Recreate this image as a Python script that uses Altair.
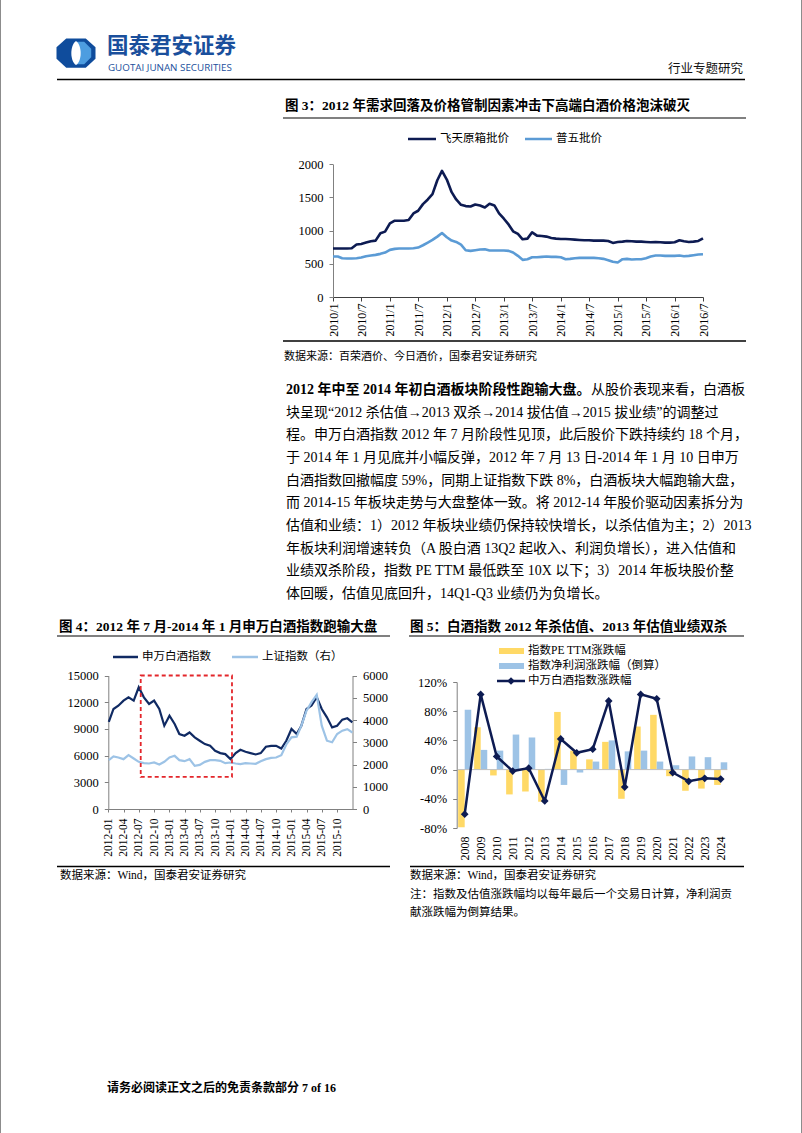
import altair as alt
import pandas as pd

# ======================= DATA =======================
# Figure 3: monthly wholesale prices, 2010/1 - 2016/7 (yuan)
fig3_series = ["飞天原箱批价", "普五批价"]
feitian_price = [730, 730, 730, 730, 735, 790, 800, 820, 840, 850, 960, 985,
                 1110, 1150, 1150, 1150, 1160, 1260, 1300, 1400, 1470, 1550, 1760, 1900,
                 1770, 1580, 1470, 1390, 1370, 1365, 1395, 1380, 1350, 1405, 1380, 1260,
                 1180, 1090, 990, 950, 870, 880, 975, 925, 920, 910, 890, 880,
                 875, 875, 870, 865, 860, 855, 855, 850, 850, 850, 845, 815,
                 830, 835, 845, 840, 835, 835, 830, 825, 830, 825, 820, 820,
                 825, 855, 840, 830, 835, 845, 885]
puwu_price = [610, 610, 585, 580, 580, 585, 595, 615, 625, 635, 650, 670,
              710, 725, 730, 730, 730, 735, 745, 780, 820, 860, 910, 965,
              900, 850, 830, 790, 705, 695, 705, 715, 720, 700, 700, 700,
              700, 695, 670, 620, 560, 570, 600, 600, 605, 610, 605, 605,
              600, 570, 575, 585, 590, 590, 590, 590, 585, 575, 555, 530,
              520, 570, 575, 565, 570, 570, 585, 610, 625, 625, 620, 620,
              620, 625, 615, 620, 630, 640, 645]
fig3_dates = list(pd.date_range("2010-01-01", "2016-07-01", freq="MS"))

# Figure 4: SW liquor index (left) and Shanghai Composite (right)
fig4_series = ["申万白酒指数", "上证指数（右）"]
fig4_dates = ["2012-01-04", "2012-02-01", "2012-03-01", "2012-04-01", "2012-05-01", "2012-06-01",
              "2012-07-01", "2012-08-01", "2012-09-01", "2012-10-01", "2012-11-01", "2012-12-01",
              "2013-01-01", "2013-02-01", "2013-03-01", "2013-04-01", "2013-05-01", "2013-06-01",
              "2013-07-01", "2013-08-01", "2013-09-01", "2013-10-01", "2013-11-01", "2013-12-01",
              "2014-01-01", "2014-02-01", "2014-03-01", "2014-04-01", "2014-05-01", "2014-06-01",
              "2014-07-01", "2014-08-01", "2014-09-01", "2014-10-01", "2014-11-01", "2014-12-01",
              "2015-01-01", "2015-02-01", "2015-03-01", "2015-04-01", "2015-05-01", "2015-06-01",
              "2015-07-01", "2015-08-01", "2015-09-01", "2015-10-01", "2015-11-01", "2015-12-01",
              "2015-12-31"]
sw_baijiu = [9800, 11240, 11600, 12180, 12550, 12180, 13680, 12550, 11800, 12180, 11240, 9360,
             10490, 9550, 8420, 8230, 8600, 8045, 7670, 7290, 7100, 6540, 6280, 6165,
             5600, 6280, 6650, 6430, 6280, 6130, 6280, 7000, 7100, 7100, 6800, 7670,
             8990, 8420, 9360, 11240, 11620, 12560, 11240, 10300, 9170, 9360, 10040, 10190, 9740]
sh_index = [2200, 2360, 2315, 2240, 2420, 2270, 2120, 2060, 2045, 2090, 2000, 2120,
            2315, 2390, 2195, 2150, 2240, 1940, 1985, 2120, 2195, 2195, 2165, 2060,
            2090, 2045, 2015, 2060, 2045, 2030, 2150, 2240, 2300, 2315, 2420, 2900,
            3220, 3250, 3745, 4420, 4800, 5130, 3745, 3070, 3000, 3370, 3520, 3590, 3440]
box_start, box_end = "2012-07-13", "2014-01-10"
box_low, box_high = 3600, 15000

# Figure 5: annual changes (%)
fig5_years = [str(y) for y in range(2008, 2025)]
fig5_series = ["指数PE TTM涨跌幅", "指数净利润涨跌幅（倒算）", "中万白酒指数涨跌幅"]
pe_change = [-79, 58, -8, -34, -30, -44, 79, 26, 14, 38, -40, 59, 75, -9, -29, -26, -21]
profit_change = [82, 27, 26, 48, 44, 1, -21, -4, 11, 40, 25, 26, 11, 6, 18, 17, 10]
index_change = [-61, 103, 18, -2, 2, -43, 42, 23, 28, 94, -24, 103, 97, -4, -16, -12, -13]

# Page texts
header_cn = "国泰君安证券"
header_en = "GUOTAI JUNAN SECURITIES"
header_right = "行业专题研究"
fig3_title = "图 3：2012 年需求回落及价格管制因素冲击下高端白酒价格泡沫破灭"
fig3_source = "数据来源：百荣酒价、今日酒价，国泰君安证券研究"
para_bold = "2012 年中至 2014 年初白酒板块阶段性跑输大盘。"
para_first_rest = "从股价表现来看，白酒板"
para_lines = [
    "块呈现“2012 杀估值→2013 双杀→2014 拔估值→2015 拔业绩”的调整过",
    "程。申万白酒指数 2012 年 7 月阶段性见顶，此后股价下跌持续约 18 个月，",
    "于 2014 年 1 月见底并小幅反弹，2012 年 7 月 13 日-2014 年 1 月 10 日申万",
    "白酒指数回撤幅度 59%，同期上证指数下跌 8%，白酒板块大幅跑输大盘，",
    "而 2014-15 年板块走势与大盘整体一致。将 2012-14 年股价驱动因素拆分为",
    "估值和业绩：1）2012 年板块业绩仍保持较快增长，以杀估值为主；2）2013",
    "年板块利润增速转负（A 股白酒 13Q2 起收入、利润负增长），进入估值和",
    "业绩双杀阶段，指数 PE TTM 最低跌至 10X 以下；3）2014 年板块股价整",
    "体回暖，估值见底回升，14Q1-Q3 业绩仍为负增长。",
]
fig4_title = "图 4：2012 年 7 月-2014 年 1 月申万白酒指数跑输大盘"
fig5_title = "图 5：白酒指数 2012 年杀估值、2013 年估值业绩双杀"
wind_source = "数据来源：Wind，国泰君安证券研究"
fig5_note = ["注：指数及估值涨跌幅均以每年最后一个交易日计算，净利润贡", "献涨跌幅为倒算结果。"]
footer = "请务必阅读正文之后的免责条款部分 7 of 16"

# ======================= STYLE / LAYOUT =======================
PAGE_W, PAGE_H = 802, 1133
FONT = "Liberation Serif, Noto Sans CJK SC"
SANS = "Noto Sans CJK SC"
NAVY = "#0d1b52"
NAVY4 = "#102a63"
LIGHT3 = "#5b9bd5"
LIGHT4 = "#9dc3e6"
YELLOW = "#ffd966"
RED = "#e3262b"
LOGO_DARK = "#0f4c9c"
LOGO_LIGHT = "#4d9de0"

# plot-area frames (pixels on the page)
F3_X, F3_Y = [333, 703], [297, 164.3]
F4_X, F4_Y = [108.3, 352.5], [809, 675.5]
F5_X, F5_Y = [456.7, 728.7], [828, 682]

DUMMY = alt.Data(values=[{"k": 0}])


def T(s, x, y, size, bold=False, color="#000000", font=FONT):
    return alt.Chart(DUMMY).mark_text(
        text=s, align="left", baseline="middle", fontSize=size,
        fontWeight="bold" if bold else "normal", color=color, font=font
    ).encode(x=alt.value(x), y=alt.value(y))


def HR(x1, x2, y, color="#000000", w=1.5):
    return alt.Chart(DUMMY).mark_rule(color=color, strokeWidth=w).encode(
        x=alt.value(x1), x2=alt.value(x2), y=alt.value(y))


def VR(x, y1, y2, color="#000000", w=1.0):
    return alt.Chart(DUMMY).mark_rule(color=color, strokeWidth=w).encode(
        x=alt.value(x), y=alt.value(y1), y2=alt.value(y2))


def BOX(x1, x2, y1, y2, color):
    return alt.Chart(DUMMY).mark_rect(color=color).encode(
        x=alt.value(x1), x2=alt.value(x2), y=alt.value(y1), y2=alt.value(y2))


def SYM(shape, x, y, size, color):
    return alt.Chart(DUMMY).mark_point(
        shape=shape, filled=True, size=size, color=color, opacity=1, strokeWidth=0
    ).encode(x=alt.value(x), y=alt.value(y))


def dt(y, m, d=1):
    return alt.DateTime(year=y, month=m, date=d)


def left_axis(values, x_pos, expr=None):
    kw = dict(values=values, orient="left", offset=-x_pos, grid=False, title=None,
              labelFont=FONT, labelFontSize=12.5, labelColor="#000000",
              domainColor="#808080", tickColor="#808080", tickSize=4, labelPadding=6)
    if expr:
        kw["labelExpr"] = expr
    else:
        kw["format"] = "d"
    return alt.Axis(**kw)


def right_axis(values, x_pos):
    return alt.Axis(values=values, orient="right", offset=x_pos - PAGE_W, grid=False, title=None,
                    format="d", labelFont=FONT, labelFontSize=12.5, labelColor="#000000",
                    domainColor="#808080", tickColor="#808080", tickSize=4, labelPadding=6)


def bottom_axis(y_pos, **kw):
    base = dict(orient="bottom", offset=y_pos - PAGE_H, labelAngle=270, labelFont=FONT,
                labelColor="#000000", grid=False, title=None, labelOverlap=False, labelFlush=False)
    base.update(kw)
    return alt.Axis(**base)


layers = []

# ---------- page frame + header ----------
octagon = "M -0.5,-0.75 L 0.5,-0.75 L 1,-0.3 L 1,0.3 L 0.5,0.75 L -0.5,0.75 L -1,0.3 L -1,-0.3 Z"
right_part = "M 0.05,-0.58 L 0.42,-0.58 L 0.78,-0.22 L 0.78,0.22 L 0.42,0.58 L 0.05,0.58 Z"
lens = "M 0,-0.62 C 0.32,-0.4 0.32,0.4 0,0.62 C -0.32,0.4 -0.32,-0.4 0,-0.62 Z"
layers += [
    VR(0.5, 0, PAGE_H, "#8c8c8c", 1), VR(801.5, 0, PAGE_H, "#8c8c8c", 1),
    SYM(octagon, 76, 53, 1521, LOGO_DARK),
    SYM(right_part, 76, 53, 1521, LOGO_LIGHT),
    SYM(lens, 76, 53, 1521, "#ffffff"),
    T(header_cn, 107, 46.5, 21.5, bold=True, color="#1a4f9c", font=SANS),
    T(header_en, 108, 68, 9.8, color="#1a4f9c", font="Open Sans"),
    T(header_right, 668, 69, 12.5, color="#111111"),
    HR(57, 745, 79.5, "#000000", 1.5),
]

# ---------- figure 3 ----------
layers += [
    T(fig3_title, 285, 106, 13.5, bold=True),
    HR(283, 746, 118, "#808080", 2),
    HR(408, 436, 139, NAVY, 2.5),
    T(fig3_series[0], 440, 139, 11.5),
    HR(525, 552, 139, LIGHT3, 2.5),
    T(fig3_series[1], 556, 139, 11.5),
]
f3_df = pd.DataFrame({"date": fig3_dates, "feitian": feitian_price, "puwu": puwu_price})
x3_scale = alt.Scale(domain=[dt(2010, 1), dt(2016, 7)], range=F3_X)
y3_scale = alt.Scale(domain=[0, 2000], range=F3_Y, nice=False)
x3_axis = bottom_axis(F3_Y[0], values=[dt(y, m) for y in range(2010, 2017) for m in (1, 7)],
                      format="%Y/%-m", labelFontSize=12, domainColor="#404040",
                      tickColor="#404040", tickSize=4, labelPadding=2)
layers.append(alt.Chart(f3_df).mark_line(color=NAVY, strokeWidth=2.6, strokeJoin="round").encode(
    x=alt.X("date:T", scale=x3_scale, axis=x3_axis),
    y=alt.Y("feitian:Q", scale=y3_scale, axis=left_axis([0, 500, 1000, 1500, 2000], F3_X[0])),
))
layers.append(alt.Chart(f3_df).mark_line(color=LIGHT3, strokeWidth=2.6, strokeJoin="round").encode(
    x=alt.X("date:T", scale=x3_scale, axis=None),
    y=alt.Y("puwu:Q", scale=y3_scale, axis=None),
))
layers += [
    HR(283, 746, 341, "#000000", 1.5),
    T(fig3_source, 284, 357, 11),
]

# ---------- paragraph ----------
layers += [T(para_bold, 286, 390, 14, bold=True), T(para_first_rest, 591, 390, 14)]
for i, line in enumerate(para_lines):
    layers.append(T(line, 286, 390 + 22.65 * (i + 1), 14))

# ---------- figure 4 ----------
layers += [
    T(fig4_title, 59, 627, 13.5, bold=True),
    HR(57, 390, 636, "#808080", 2),
    HR(113, 138, 657, NAVY4, 2.5),
    T(fig4_series[0], 142, 657, 11.5),
    HR(232, 258, 657, LIGHT4, 2.5),
    T(fig4_series[1], 262, 657, 11.5),
]
f4_df = pd.DataFrame({"date": pd.to_datetime(fig4_dates), "sw": sw_baijiu, "sh": sh_index})
box_df = pd.DataFrame({"start": [pd.Timestamp(box_start)], "end": [pd.Timestamp(box_end)],
                       "low": [box_low], "high": [box_high]})
x4_scale = alt.Scale(domain=[dt(2012, 1), dt(2016, 1)], range=F4_X)
y4l_scale = alt.Scale(domain=[0, 15000], range=F4_Y, nice=False)
y4r_scale = alt.Scale(domain=[0, 6000], range=F4_Y, nice=False)
x4_axis = bottom_axis(F4_Y[0], values=[dt(y, m) for y in range(2012, 2016) for m in (1, 4, 7, 10)],
                      format="%Y-%m", labelFontSize=11.5, domainColor="#808080",
                      tickColor="#808080", tickSize=3, labelPadding=6)
layers.append(alt.Chart(f4_df).mark_line(color=NAVY4, strokeWidth=2.2).encode(
    x=alt.X("date:T", scale=x4_scale, axis=x4_axis),
    y=alt.Y("sw:Q", scale=y4l_scale,
            axis=left_axis([0, 3000, 6000, 9000, 12000, 15000], F4_X[0])),
))
layers.append(alt.Chart(f4_df).mark_line(color=LIGHT4, strokeWidth=2.2).encode(
    x=alt.X("date:T", scale=x4_scale, axis=None),
    y=alt.Y("sh:Q", scale=y4r_scale,
            axis=right_axis([0, 1000, 2000, 3000, 4000, 5000, 6000], F4_X[1])),
))
layers.append(alt.Chart(box_df).mark_rect(fillOpacity=0, stroke=RED, strokeWidth=1.8,
                                          strokeDash=[4, 3]).encode(
    x=alt.X("start:T", scale=x4_scale, axis=None),
    x2="end:T",
    y=alt.Y("low:Q", scale=y4l_scale, axis=None),
    y2="high:Q",
))
layers += [
    HR(57, 390, 866.5, "#000000", 1.5),
    T(wind_source, 60, 876, 11.5),
]

# ---------- figure 5 ----------
layers += [
    T(fig5_title, 410, 627, 13.5, bold=True),
    HR(409, 744, 636, "#808080", 2),
    BOX(499, 524, 648, 654, YELLOW),
    T(fig5_series[0], 528, 651, 11.5),
    BOX(499, 524, 663, 669, LIGHT4),
    T(fig5_series[1], 528, 666, 11.5),
]
bars_df = pd.DataFrame({
    "year": fig5_years * 2,
    "series": [fig5_series[0]] * len(pe_change) + [fig5_series[1]] * len(profit_change),
    "value": pe_change + profit_change,
})
line_df = pd.DataFrame({"year": fig5_years, "value": index_change})
zero_df = pd.DataFrame({"first": [fig5_years[0]], "last": [fig5_years[-1]], "zero": [0]})


def x5_scale():
    return alt.Scale(domain=fig5_years, range=F5_X, paddingInner=0.18, paddingOuter=0.09)


def y5_scale():
    return alt.Scale(domain=[-80, 120], range=F5_Y, nice=False)


x5_axis = bottom_axis(F5_Y[0], labelFontSize=12, ticks=False, domain=False, labelPadding=8)
layers.append(alt.Chart(bars_df).mark_bar().encode(
    x=alt.X("year:N", scale=x5_scale(), axis=x5_axis),
    xOffset=alt.XOffset("series:N", scale=alt.Scale(domain=fig5_series[:2], paddingInner=0, paddingOuter=0)),
    y=alt.Y("value:Q", scale=y5_scale(),
            axis=left_axis([-80, -40, 0, 40, 80, 120], F5_X[0], expr="datum.value + '%'")),
    color=alt.Color("series:N", scale=alt.Scale(domain=fig5_series[:2], range=[YELLOW, LIGHT4]), legend=None),
))
layers.append(alt.Chart(zero_df).mark_rule(color="#bfbfbf", strokeWidth=1).encode(
    x=alt.X("first:N", scale=x5_scale(), axis=None, bandPosition=0),
    x2=alt.X2("last", bandPosition=1),
    y=alt.Y("zero:Q", scale=y5_scale(), axis=None),
))
layers.append(alt.Chart(line_df).mark_line(color=NAVY, strokeWidth=2.5).encode(
    x=alt.X("year:N", scale=x5_scale(), axis=None),
    y=alt.Y("value:Q", scale=y5_scale(), axis=None),
))
layers.append(alt.Chart(line_df).mark_point(shape="diamond", filled=True, size=60, color=NAVY,
                                            opacity=1).encode(
    x=alt.X("year:N", scale=x5_scale(), axis=None),
    y=alt.Y("value:Q", scale=y5_scale(), axis=None),
))
layers += [
    HR(497, 525, 681, NAVY, 2.5),
    SYM("diamond", 511, 681, 60, NAVY),
    T(fig5_series[2], 528, 681, 11.5),
    HR(410, 744, 866.5, "#000000", 1.5),
    T(wind_source, 410, 876, 11.5),
    T(fig5_note[0], 410, 895, 11.5),
    T(fig5_note[1], 410, 913, 11.5),
]

# ---------- footer ----------
layers.append(T(footer, 107, 1088, 12, bold=True))

chart = alt.layer(*layers).resolve_scale(
    x="independent", y="independent", color="independent"
).properties(
    width=PAGE_W, height=PAGE_H, padding=0, background="white",
    autosize=alt.AutoSizeParams(type="none"),
).configure_view(strokeWidth=0)

chart.save("out.html", embed_options={"renderer": "svg", "actions": False})
